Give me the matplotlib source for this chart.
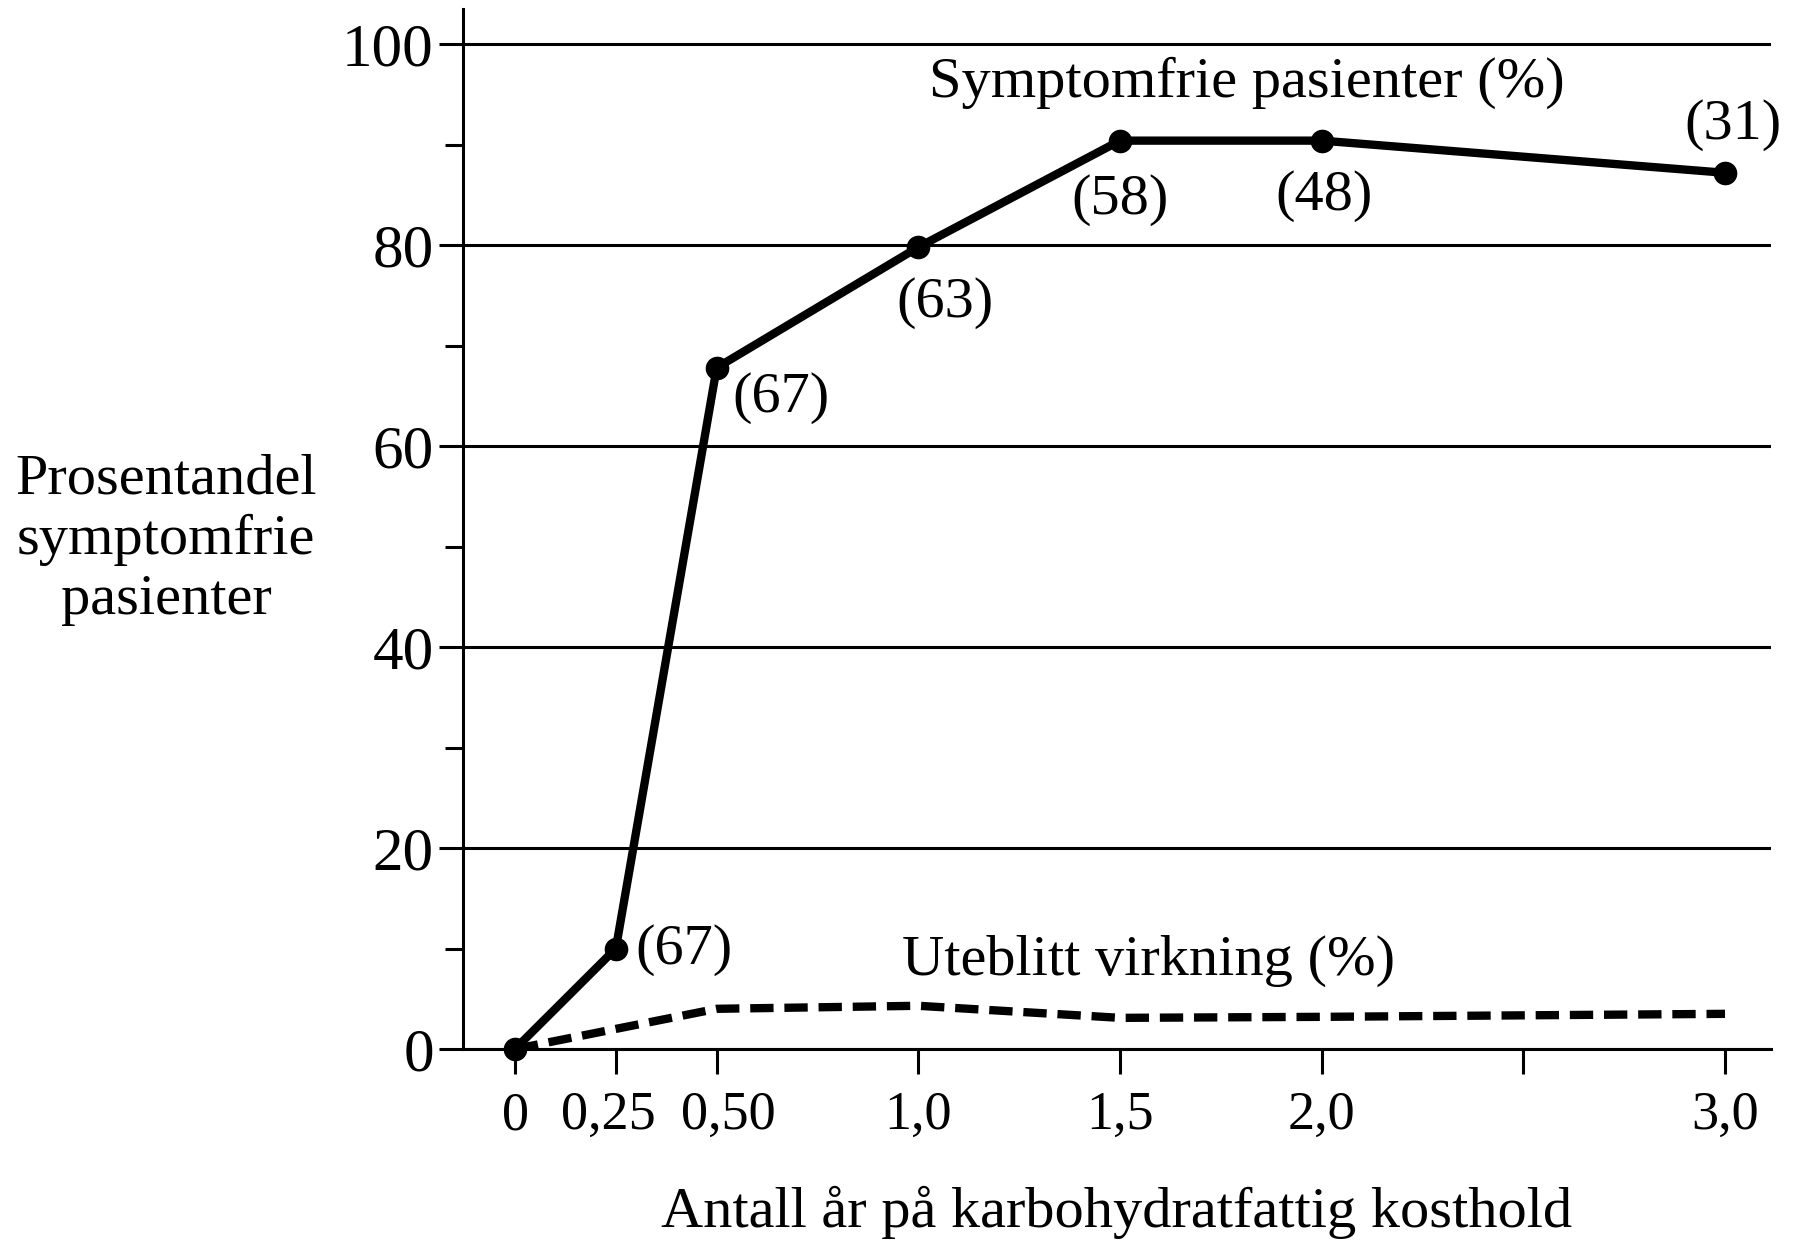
import matplotlib
matplotlib.use("Agg")
import matplotlib.pyplot as plt
import matplotlib.transforms as mtransforms

plt.rcParams['font.family'] = ['Liberation Serif', 'DejaVu Serif']

years = [0, 0.25, 0.5, 1.0, 1.5, 2.0, 3.0]
symptomfree = [0, 10, 67.8, 79.8, 90.4, 90.4, 87.2]
patients_n = ['', '(67)', '(67)', '(63)', '(58)', '(48)', '(31)']
years_nofx = [0, 0.5, 1.0, 1.5, 2.0, 3.0]
no_effect = [0, 4.0, 4.3, 3.1, 3.2, 3.5]
xtick_vals = [0, 0.25, 0.5, 1.0, 1.5, 2.0, 2.5, 3.0]
xtick_labels = ['0', '0,25', '0,50', '1,0', '1,5', '2,0', '', '3,0']
ytick_major = [0, 20, 40, 60, 80, 100]
ytick_minor = [10, 30, 50, 70, 90]

fig = plt.figure(figsize=(17.94, 12.40), dpi=100)
ax = fig.add_axes([463/1794, 1 - 1049/1240, (1771 - 463)/1794, (1049 - 9)/1240])
ax.set_xlim(-0.129, 3.114)
ax.set_ylim(0, 103.5)

for y in ytick_major:
    ax.axhline(y, color='black', lw=2.2, zorder=1)

ax.plot(years, symptomfree, color='black', lw=6, marker='o', markersize=16,
        solid_joinstyle='round', zorder=3, clip_on=False)
ax.plot(years_nofx, no_effect, color='black', lw=6, linestyle=(0, (2.8, 1.3)),
        zorder=3, clip_on=False)

fs = 42
# point labels
offs = {1: (0.419, 9.85), 2: (0.66, 64.8), 3: (1.066, 74.2), 4: (1.50, 84.5),
        5: (2.006, 84.9), 6: (3.02, 92.0)}
for i, (tx, ty) in offs.items():
    ax.text(tx, ty, patients_n[i], fontsize=fs, ha='center', va='center')

ax.text(1.815, 96.2, 'Symptomfrie pasienter (%)', fontsize=fs, ha='center', va='center')
ax.text(1.57, 8.76, 'Uteblitt virkning (%)', fontsize=fs, ha='center', va='center')

ax.spines['top'].set_visible(False)
ax.spines['right'].set_visible(False)
for s in ('left', 'bottom'):
    ax.spines[s].set_linewidth(2.2)

ax.set_yticks(ytick_major)
ax.set_yticklabels([str(v) for v in ytick_major], fontsize=44)
ax.set_yticks(ytick_minor, minor=True)
ax.tick_params(axis='y', which='major', length=17, width=2.2, pad=4)
ax.tick_params(axis='y', which='minor', length=13, width=2.2)

ax.set_xticks(xtick_vals)
ax.set_xticklabels(xtick_labels, fontsize=39)
ax.tick_params(axis='x', which='major', length=18, width=2.2, pad=12)

# nudge crowded labels apart, as in the original
nudges = {1: -7, 2: 12}
for idx, dx in nudges.items():
    lab = ax.get_xticklabels()[idx]
    lab.set_transform(lab.get_transform() + mtransforms.ScaledTranslation(dx / 100, 0, fig.dpi_scale_trans))

ax.set_xlabel('Antall år på karbohydratfattig kosthold', fontsize=fs, labelpad=32)

fig.text(166/1794, 1 - 540/1240, 'Prosentandel\nsymptomfrie\npasienter', fontsize=fs,
         ha='center', va='center', linespacing=1.2)

fig.savefig('out.png', dpi=100, facecolor='white')
